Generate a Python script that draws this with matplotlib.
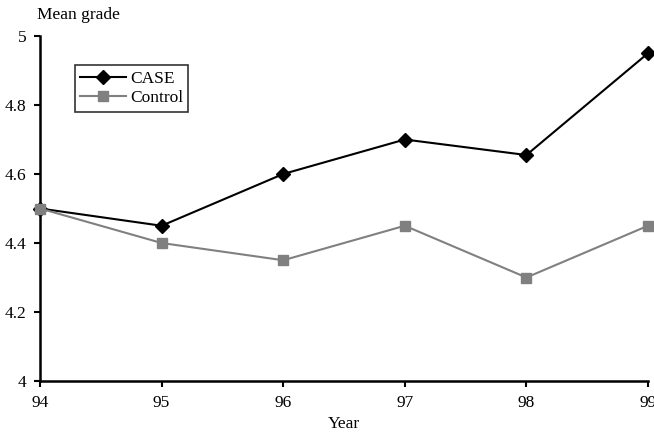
import matplotlib.pyplot as plt

plt.rcParams["font.family"] = ["Liberation Serif", "DejaVu Serif"]

years = [94, 95, 96, 97, 98, 99]
year_labels = ["94", "95", "96", "97", "98", "99"]
case_vals = [4.5, 4.45, 4.6, 4.7, 4.655, 4.95]
control_vals = [4.5, 4.4, 4.35, 4.45, 4.3, 4.45]

fig = plt.figure(figsize=(6.54, 4.32), dpi=100)
ax = fig.add_axes([40 / 654, 1 - 381 / 432, (648 - 40) / 654, (381 - 36) / 432])

ax.plot(years, case_vals, color="black", lw=1.5, marker="D", markersize=7.5,
        label="CASE", clip_on=False, zorder=3)
ax.plot(years, control_vals, color="#808080", lw=1.5, marker="s", markersize=7.5,
        label="Control", clip_on=False, zorder=3)

ax.set_xlim(94, 99)
ax.set_ylim(4, 5)
ax.set_xticks(years)
ax.set_xticklabels(year_labels)
ax.set_yticks([4, 4.2, 4.4, 4.6, 4.8, 5])
ax.set_yticklabels(["4", "4.2", "4.4", "4.6", "4.8", "5"])
ax.tick_params(labelsize=12.5, length=4, width=1.5, direction="out", pad=6)

for s in ["top", "right"]:
    ax.spines[s].set_visible(False)
for s in ["left", "bottom"]:
    ax.spines[s].set_linewidth(1.8)

ax.set_xlabel("Year", fontsize=12.5, labelpad=4)
fig.text(37 / 654, 1 - 15 / 432, "Mean grade", fontsize=12.5, va="center")

leg = ax.legend(loc="upper left", bbox_to_anchor=(0.058, 0.915), fontsize=12.5,
                frameon=True, fancybox=False, handlelength=2.6,
                borderpad=0.3, labelspacing=0.2, handletextpad=0.25,
                borderaxespad=0)
leg.get_frame().set_edgecolor("black")
leg.get_frame().set_linewidth(1.2)

fig.savefig("out.png", dpi=100)
